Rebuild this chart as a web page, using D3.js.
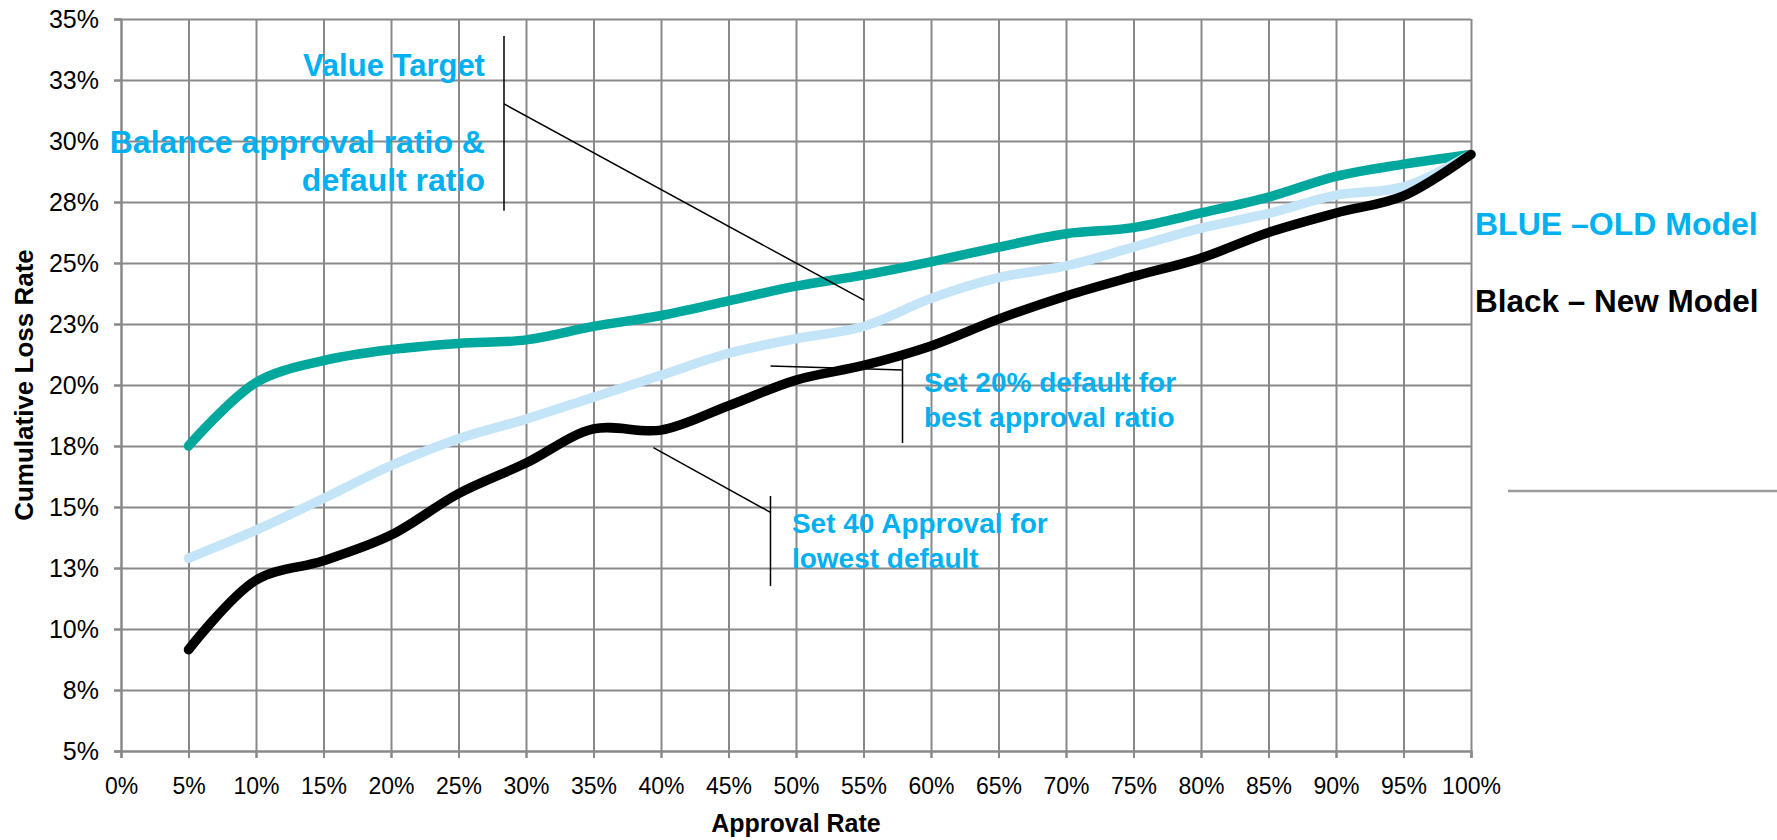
<!DOCTYPE html>
<html>
<head>
<meta charset="utf-8">
<script src="https://cdn.jsdelivr.net/npm/d3@7"></script>
<style>
  html, body { margin: 0; padding: 0; background: #ffffff; }
  svg { display: block; font-family: "Liberation Sans", Arial, Helvetica, sans-serif; }
</style>
</head>
<body>
<svg id="chart" width="1777" height="840"></svg>
<script>
// Approval rate (x) for every point of the three curves
const approvalRates = [0.05, 0.10, 0.15, 0.20, 0.25, 0.30, 0.35, 0.40, 0.45, 0.50,
                       0.55, 0.60, 0.65, 0.70, 0.75, 0.80, 0.85, 0.90, 0.95, 1.00];

// Cumulative loss rate per approval rate
const targetLoss   = [0.175, 0.201, 0.210, 0.2145, 0.217, 0.2185, 0.224, 0.2285, 0.2345, 0.2405,
                      0.245, 0.2505, 0.2565, 0.262, 0.2645, 0.2705, 0.277, 0.2855, 0.2905, 0.2945];
const oldModelLoss = [0.129, 0.1405, 0.1535, 0.167, 0.178, 0.186, 0.195, 0.204, 0.213, 0.219,
                      0.224, 0.2355, 0.244, 0.2488, 0.2565, 0.2643, 0.2703, 0.2778, 0.2812, 0.2945];
const newModelLoss = [0.0915, 0.120, 0.128, 0.1385, 0.1555, 0.168, 0.182, 0.1815, 0.1915, 0.202,
                      0.208, 0.216, 0.227, 0.2365, 0.2445, 0.252, 0.2625, 0.2705, 0.2775, 0.2945];

// Axis ticks and their printed labels
const xTicks = [0, 0.05, 0.10, 0.15, 0.20, 0.25, 0.30, 0.35, 0.40, 0.45, 0.50,
                0.55, 0.60, 0.65, 0.70, 0.75, 0.80, 0.85, 0.90, 0.95, 1.00];
const xTickLabels = ["0%", "5%", "10%", "15%", "20%", "25%", "30%", "35%", "40%", "45%", "50%",
                     "55%", "60%", "65%", "70%", "75%", "80%", "85%", "90%", "95%", "100%"];
const yTicks = [0.05, 0.075, 0.10, 0.125, 0.15, 0.175, 0.20, 0.225, 0.25, 0.275, 0.30, 0.325, 0.35];
const yTickLabels = ["5%", "8%", "10%", "13%", "15%", "18%", "20%", "23%", "25%", "28%", "30%", "33%", "35%"];

const seriesNames  = ["Target", "BLUE \u2013OLD Model", "Black \u2013 New Model"];
const seriesColors = ["#00a79d", "#c4e5f8", "#000000"];

const svg = d3.select("#chart");
const margin = { left: 121, top: 19, right: 306, bottom: 89 };
const W = 1777 - margin.left - margin.right;
const H = 840 - margin.top - margin.bottom;

const x = d3.scaleLinear().domain([0, 1]).range([0, W]);
const y = d3.scaleLinear().domain([0.05, 0.35]).range([H, 0]);

const g = svg.append("g").attr("transform", `translate(${margin.left},${margin.top})`);
const gridColor = "#898989";

// grid
g.append("g").attr("class", "grid-x")
  .call(d3.axisBottom(x).tickValues(xTicks).tickSize(H + 7).tickFormat(""))
  .attr("transform", `translate(0,${H + 7})`)
  .call(s => s.select(".domain").remove())
  .call(s => s.selectAll("line").attr("stroke", gridColor).attr("stroke-width", 2)
                                  .attr("y1", 0).attr("y2", -(H + 7)));

g.append("g").attr("class", "grid-y")
  .attr("transform", `translate(-7,0)`)
  .call(d3.axisRight(y).tickValues(yTicks).tickSize(W + 7).tickFormat(""))
  .call(s => s.select(".domain").remove())
  .call(s => s.selectAll("line").attr("stroke", gridColor).attr("stroke-width", 2));

// axes with labels
const yAxis = g.append("g")
  .call(d3.axisLeft(y).tickValues(yTicks).tickSize(7).tickPadding(15)
          .tickFormat((d, i) => yTickLabels[i]));
yAxis.select(".domain").attr("stroke", gridColor).attr("stroke-width", 2);
yAxis.selectAll(".tick line").attr("stroke", gridColor).attr("stroke-width", 2);
yAxis.selectAll("text").attr("font-size", 25).attr("fill", "#000")
  .attr("font-family", "'Liberation Sans', Arial, sans-serif");

const xAxis = g.append("g").attr("transform", `translate(0,${H})`)
  .call(d3.axisBottom(x).tickValues(xTicks).tickSize(7).tickPadding(20)
          .tickFormat((d, i) => xTickLabels[i]));
xAxis.select(".domain").attr("stroke", gridColor).attr("stroke-width", 2);
xAxis.selectAll(".tick line").attr("stroke", gridColor).attr("stroke-width", 2);
xAxis.selectAll("text").attr("font-size", 23).attr("fill", "#000")
  .attr("font-family", "'Liberation Sans', Arial, sans-serif");

// axis titles
svg.append("text")
  .attr("transform", `translate(33,${margin.top + H / 2}) rotate(-90)`)
  .attr("text-anchor", "middle").attr("font-weight", "bold").attr("font-size", 26)
  .text("Cumulative Loss Rate");
svg.append("text")
  .attr("x", margin.left + W / 2).attr("y", 832)
  .attr("text-anchor", "middle").attr("font-weight", "bold").attr("font-size", 25)
  .text("Approval Rate");

// curves
const series = [targetLoss, oldModelLoss, newModelLoss];
const line = d3.line()
  .x((d, i) => x(approvalRates[i]))
  .y(d => y(d))
  .curve(d3.curveCatmullRom.alpha(0.5));

g.selectAll("path.series")
  .data(series)
  .join("path")
  .attr("class", "series")
  .attr("d", line)
  .attr("fill", "none")
  .attr("stroke", (d, i) => seriesColors[i])
  .attr("stroke-width", 9.5)
  .attr("stroke-linecap", "round")
  .attr("stroke-linejoin", "round");

// callouts
const noteBlue = "#00b0f0";
const callouts = [
  { lines: [[[0.2837, 0.343], [0.2837, 0.2714]], [[0.2837, 0.3152], [0.5504, 0.2348]]],
    text: ["Value Target"], anchor: "end", at: [0.2696, 0.3266], size: 31, lead: 0 },
  { lines: [], text: ["Balance approval ratio &", "default ratio"],
    anchor: "end", at: [0.2696, 0.2951], size: 32, lead: 38 },
  { lines: [[[0.4811, 0.2078], [0.5789, 0.2061]], [[0.5789, 0.2115], [0.5789, 0.1762]]],
    text: ["Set 20% default for", "best approval ratio"],
    anchor: "start", at: [0.5948, 0.1971], size: 28, lead: 35 },
  { lines: [[[0.3944, 0.1743], [0.4811, 0.1478]], [[0.4811, 0.1545], [0.4811, 0.1176]]],
    text: ["Set 40 Approval for", "lowest default"],
    anchor: "start", at: [0.4970, 0.1393], size: 28, lead: 35 }
];

callouts.forEach(c => {
  c.lines.forEach(seg => {
    g.append("line")
      .attr("x1", x(seg[0][0])).attr("y1", y(seg[0][1]))
      .attr("x2", x(seg[1][0])).attr("y2", y(seg[1][1]))
      .attr("stroke", "#000").attr("stroke-width", 1.5);
  });
  const t = g.append("text")
    .attr("x", x(c.at[0])).attr("y", y(c.at[1]))
    .attr("text-anchor", c.anchor).attr("font-weight", "bold")
    .attr("font-size", c.size).attr("fill", noteBlue);
  c.text.forEach((s, i) => {
    t.append("tspan").attr("x", x(c.at[0])).attr("dy", i === 0 ? 0 : c.lead).text(s);
  });
});

// series key at the right
const key = svg.append("g").attr("transform", `translate(${margin.left + W + 4},0)`);
key.append("text").attr("x", 0).attr("y", 235)
  .attr("font-weight", "bold").attr("font-size", 32).attr("fill", noteBlue)
  .text(seriesNames[1]);
key.append("text").attr("x", 0).attr("y", 312)
  .attr("font-weight", "bold").attr("font-size", 31.5).attr("fill", "#000")
  .text(seriesNames[2]);
key.append("line").attr("x1", 33).attr("x2", 310).attr("y1", 491).attr("y2", 491)
  .attr("stroke", "#9a9a9a").attr("stroke-width", 2.5);
</script>
</body>
</html>
